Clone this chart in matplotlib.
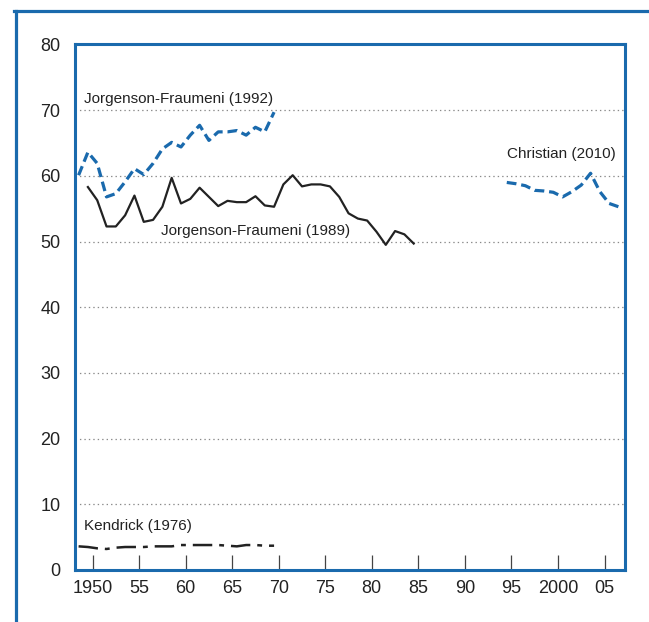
import numpy as np
import matplotlib.pyplot as plt
from matplotlib.lines import Line2D

plt.rcParams['font.family'] = ['Liberation Sans', 'DejaVu Sans']
plt.rcParams['lines.scale_dashes'] = False

BLUE = '#1a6aad'
DARK = '#222222'

# Jorgenson-Fraumeni (1992), 1948-1969
jf92_years = np.arange(1948, 1970)
jf92 = [60.1, 63.6, 61.9, 56.8, 57.3, 59.1, 61.1, 60.2, 61.9, 64.1, 65.1,
        64.4, 66.2, 67.7, 65.4, 66.7, 66.7, 66.9, 66.2, 67.4, 66.7, 69.7]

# Jorgenson-Fraumeni (1989), 1949-1984
jf89_years = np.arange(1949, 1985)
jf89 = [58.3, 56.3, 52.3, 52.3, 54.0, 57.0, 53.0, 53.3, 55.3, 59.7, 55.8,
        56.5, 58.2, 56.8, 55.4, 56.2, 56.0, 56.0, 56.9, 55.5, 55.3, 58.7,
        60.1, 58.4, 58.7, 58.7, 58.4, 56.8, 54.3, 53.5, 53.2, 51.5, 49.5,
        51.6, 51.1, 49.7]

# Christian (2010), 1994-2006
chr_years = np.arange(1994, 2007)
christian = [59.0, 58.8, 58.5, 57.8, 57.7, 57.5, 56.8, 57.6, 58.6, 60.4,
             57.6, 55.8, 55.3]

# Kendrick (1976), 1948-1969
ken_years = np.arange(1948, 1970)
kendrick = [3.6, 3.5, 3.3, 3.2, 3.4, 3.5, 3.5, 3.5, 3.6, 3.6, 3.6, 3.8,
            3.8, 3.8, 3.8, 3.8, 3.7, 3.6, 3.8, 3.8, 3.7, 3.7]

xticks = [1950, 1955, 1960, 1965, 1970, 1975, 1980, 1985, 1990, 1995, 2000, 2005]
xlabels = ['1950', '55', '60', '65', '70', '75', '80', '85', '90', '95', '2000', '05']

fig = plt.figure(figsize=(6.49, 6.22), dpi=100)
ax = fig.add_axes([74.5 / 649, 1 - 570 / 622, (625 - 74.5) / 649, (570 - 44.5) / 622])

# annual values plotted at mid-year
ax.plot(jf92_years + 0.5, jf92, color=BLUE, lw=2.3, dashes=(7, 3.5))
ax.plot(jf89_years + 0.5, jf89, color=DARK, lw=1.6)
ax.plot(chr_years + 0.5, christian, color=BLUE, lw=2.3, dashes=(7, 3.5))
ax.plot(ken_years + 0.5, kendrick, color=DARK, lw=1.8, dashes=(14, 5, 3.5, 5))

ax.set_xlim(1948.06, 2007.2)
ax.set_ylim(0, 80)
ax.set_yticks(range(0, 90, 10))
ax.set_xticks(xticks)
ax.set_xticklabels(xlabels)
for v in range(10, 80, 10):
    ax.axhline(v, color='#8a8a8a', lw=0.9, dashes=(1, 2.2), zorder=0)

ax.tick_params(axis='y', length=0, pad=10, labelsize=13, labelcolor='#222222')
ax.tick_params(axis='x', direction='in', length=11, width=0.9, color='#444444',
               pad=7, labelsize=13, labelcolor='#222222')
for s in ax.spines.values():
    s.set_color(BLUE)
    s.set_linewidth(2.2)

txt = dict(fontsize=11, color='#222222', va='bottom')
ax.text(1949.1, 70.6, 'Jorgenson-Fraumeni (1992)', **txt)
ax.text(1957.3, 50.5, 'Jorgenson-Fraumeni (1989)', **txt)
ax.text(1994.5, 62.3, 'Christian (2010)', **txt)
ax.text(1949.1, 5.7, 'Kendrick (1976)', **txt)

# outer frame lines
fig.add_artist(Line2D([14 / 649, 1], [1 - 10.5 / 622] * 2, color=BLUE, lw=2.3))
fig.add_artist(Line2D([15.5 / 649] * 2, [0, 1 - 10.5 / 622], color=BLUE, lw=2.3))

fig.savefig('out.png', dpi=100)
